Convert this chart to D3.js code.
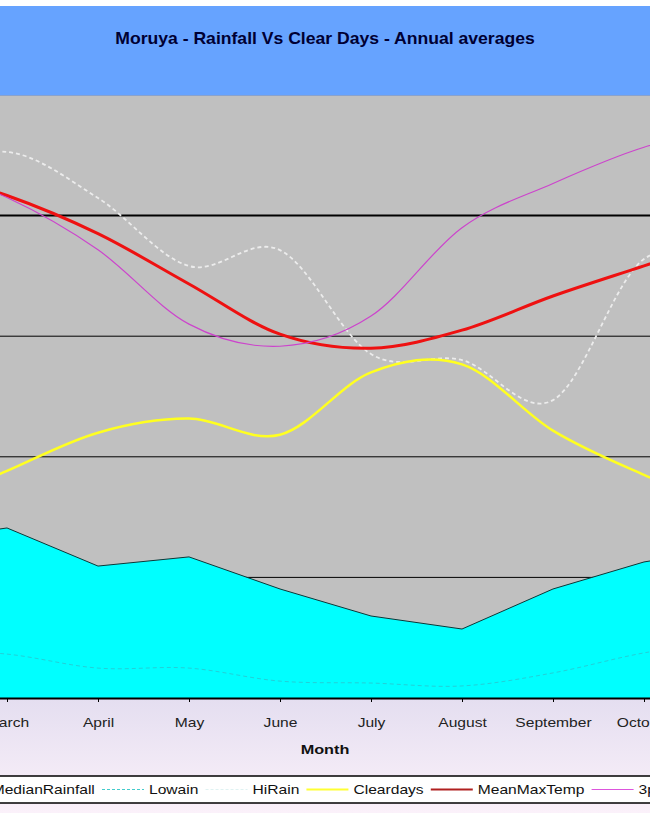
<!DOCTYPE html>
<html>
<head>
<meta charset="utf-8">
<script src="https://cdn.jsdelivr.net/npm/d3@7"></script>
<style>
  html, body { margin: 0; padding: 0; background: #fff; }
  svg { display: block; font-family: "Liberation Sans", Arial, sans-serif; }
</style>
</head>
<body>
<svg id="chart" width="650" height="813"></svg>
<script>
// months that sit on the axis (Feb and Nov are just off the edges)
var months = ["February", "March", "April", "May", "June", "July", "August", "September", "October", "November"];
var shownMonths = ["March", "April", "May", "June", "July", "August", "September", "October"];

// rainfall in mm (left axis)
var medianRain = [65, 70.5, 54.7, 58.5, 45.2, 34.0, 28.6, 45.2, 56.4, 62.6];
var lowRain    = [19.9, 18.2, 12.4, 12.4, 7.0, 6.2, 5.0, 10.4, 18.7, 24.0];
var hiRain     = [215, 226.4, 207.3, 179.1, 185.7, 142.6, 140.1, 123.5, 182.0, 177.4];

// days / degrees (right axis)
var clearDays   = [9.3, 11.3, 13.2, 13.9, 13.1, 16.2, 16.6, 13.3, 11.1, 9.3];
var meanMaxTemp = [26.3, 25.0, 23.1, 20.6, 18.1, 17.4, 18.3, 20.0, 21.5, 23.0];
var temp3pm     = [26.5, 24.9, 22.3, 18.6, 17.5, 19.0, 23.4, 25.6, 27.4, 28.4];

var rainTicks = [50, 100, 150, 200];

var legendItems = [
    {name: "MedianRainfall", kind: "area", color: "#00ffff"},
    {name: "Lowain", kind: "line", color: "#44cccc", dash: "3,2", w: 1},
    {name: "HiRain", kind: "line", color: "#dff2f2", dash: "3,2", w: 1},
    {name: "Cleardays", kind: "line", color: "#ffff33", w: 2},
    {name: "MeanMaxTemp", kind: "line", color: "#b02020", w: 2},
    {name: "3pmTemp", kind: "line", color: "#dd55dd", w: 1.2}
];

var svg = d3.select("#chart");
var W = 650, H = 813;
var plot = {top: 95, bottom: 698};
var sx = 1.25; // text in the picture is a bit stretched sideways

var defs = svg.append("defs");
var grad = defs.append("linearGradient").attr("id", "lav").attr("x1", 0).attr("y1", 0).attr("x2", 0).attr("y2", 1);
grad.append("stop").attr("offset", "0%").attr("stop-color", "#e4def0");
grad.append("stop").attr("offset", "100%").attr("stop-color", "#fbf1fa");

// backgrounds
svg.append("rect").attr("x", 0).attr("y", 0).attr("width", W).attr("height", H).attr("fill", "#fff");
svg.append("rect").attr("x", 0).attr("y", 6).attr("width", W).attr("height", plot.top - 6).attr("fill", "#66a3ff");
svg.append("rect").attr("x", 0).attr("y", plot.top).attr("width", W).attr("height", plot.bottom - plot.top).attr("fill", "#c0c0c0");
svg.append("rect").attr("x", 0).attr("y", plot.bottom).attr("width", W).attr("height", H - plot.bottom).attr("fill", "url(#lav)");
svg.append("line").attr("x1", 0).attr("x2", W).attr("y1", plot.top + 0.5).attr("y2", plot.top + 0.5)
    .attr("stroke", "#8aa2cc").attr("stroke-width", 1);

// title
svg.append("text")
    .attr("transform", "translate(" + (W / 2) + ",44) scale(1.1,1)")
    .attr("text-anchor", "middle")
    .style("font-size", "16px")
    .style("font-weight", "bold")
    .style("fill", "#000033")
    .text("Moruya - Rainfall Vs Clear Days - Annual averages");

// scales
var xScale = d3.scalePoint().domain(months).range([-84, 735]);
var yRain = d3.scaleLinear().domain([0, 250]).range([plot.bottom, plot.top]);
var yDays = d3.scaleLinear().domain([0, 30]).range([plot.bottom, plot.top]);

// grid
svg.append("g").selectAll("line").data(rainTicks).enter()
    .append("line")
    .attr("x1", 0).attr("x2", W)
    .attr("y1", (d) => { return yRain(d); })
    .attr("y2", (d) => { return yRain(d); })
    .attr("stroke", "#000")
    .attr("stroke-width", (d) => { return d == 200 ? 2 : 1; });

// median rainfall area
var area = d3.area()
    .x((d, i) => { return xScale(months[i]); })
    .y0(plot.bottom)
    .y1((d) => { return yRain(d); });
svg.append("path").datum(medianRain)
    .attr("d", area)
    .attr("fill", "#00ffff");
svg.append("path").datum(medianRain)
    .attr("d", d3.line().x((d, i) => { return xScale(months[i]); }).y((d) => { return yRain(d); }))
    .attr("fill", "none")
    .attr("stroke", "#0b3838")
    .attr("stroke-width", 1);

function smooth(y) {
    return d3.line()
        .x((d, i) => { return xScale(months[i]); })
        .y((d) => { return y(d); })
        .curve(d3.curveCardinal.tension(0));
}

svg.append("path").datum(lowRain)
    .attr("d", smooth(yRain))
    .attr("fill", "none").attr("stroke", "#22d0d8").attr("stroke-width", 1)
    .attr("stroke-dasharray", "4,3");

svg.append("path").datum(hiRain)
    .attr("d", smooth(yRain))
    .attr("fill", "none").attr("stroke", "#ececec").attr("stroke-width", 1.8)
    .attr("stroke-dasharray", "4,3");

svg.append("path").datum(clearDays)
    .attr("d", smooth(yDays))
    .attr("fill", "none").attr("stroke", "#ffff20").attr("stroke-width", 2.5);

svg.append("path").datum(meanMaxTemp)
    .attr("d", smooth(yDays))
    .attr("fill", "none").attr("stroke", "#ee1111").attr("stroke-width", 3);

svg.append("path").datum(temp3pm)
    .attr("d", smooth(yDays))
    .attr("fill", "none").attr("stroke", "#cc44cc").attr("stroke-width", 1.2);

// x axis
var xAxis = svg.append("g")
    .attr("transform", "translate(0," + plot.bottom + ")")
    .call(d3.axisBottom(xScale).tickSize(4).tickSizeOuter(0));
xAxis.select(".domain").attr("stroke", "#000").attr("stroke-width", 2);
xAxis.selectAll(".tick line").attr("stroke", "#000");
// only the months that show in the picture get a label
xAxis.selectAll(".tick text")
    .filter((d) => { return shownMonths.indexOf(d) < 0; })
    .remove();
xAxis.selectAll(".tick text")
    .attr("y", 0).attr("dy", 0)
    .attr("transform", "translate(0,29) scale(" + sx + ",1)")
    .style("font-size", "12.5px")
    .style("font-family", "'Liberation Sans', Arial, sans-serif")
    .style("fill", "#222");

svg.append("text")
    .attr("transform", "translate(" + (W / 2) + ",754) scale(" + sx + ",1)")
    .attr("text-anchor", "middle")
    .style("font-size", "13px")
    .style("font-weight", "bold")
    .style("fill", "#111")
    .text("Month");

// legend
svg.append("rect")
    .attr("x", -5).attr("y", 776).attr("width", W + 10).attr("height", 27)
    .attr("fill", "#fff").attr("stroke", "#000").attr("stroke-width", 1.5);

var lg = svg.append("g");
var firstEnd = 95, swatchW = 42, gapIn = 5, gapOut = 7;
var widths = legendItems.map((d) => {
    var t = lg.append("text").style("font-size", "12.5px").text(d.name);
    var w = t.node().getComputedTextLength() * sx;
    t.remove();
    return w;
});
var pos = firstEnd - widths[0];
legendItems.forEach((d, i) => {
    var swStart = pos - gapIn - swatchW;
    if (d.kind == "area") {
        lg.append("rect").attr("x", swStart + 14).attr("y", 785).attr("width", 12).attr("height", 10)
            .attr("fill", d.color).attr("stroke", "#000").attr("stroke-width", 0.5);
    } else {
        lg.append("line")
            .attr("x1", swStart).attr("x2", swStart + swatchW)
            .attr("y1", 789.5).attr("y2", 789.5)
            .attr("stroke", d.color).attr("stroke-width", d.w)
            .attr("stroke-dasharray", d.dash || null);
    }
    lg.append("text")
        .attr("transform", "translate(" + pos + ",794) scale(" + sx + ",1)")
        .style("font-size", "12.5px")
        .style("fill", "#111")
        .text(d.name);
    if (i + 1 < legendItems.length) {
        pos = pos + widths[i] + gapOut + swatchW + gapIn;
    }
});
</script>
</body>
</html>
